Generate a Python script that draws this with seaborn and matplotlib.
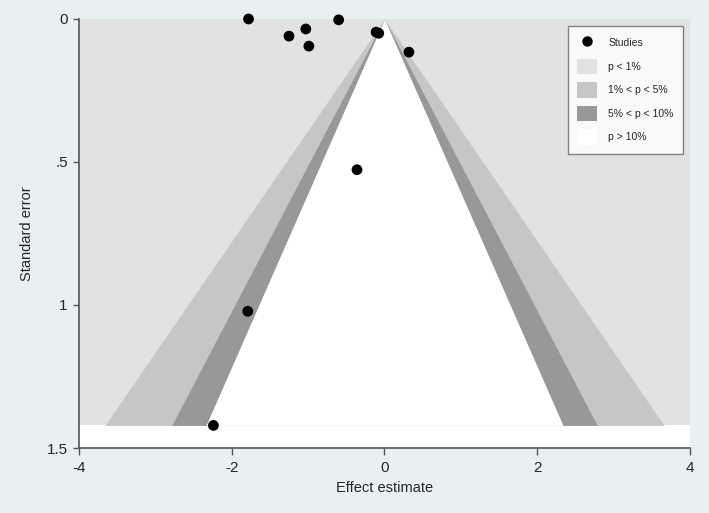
import numpy as np
import pandas as pd
import matplotlib.pyplot as plt
import seaborn as sns
from matplotlib.patches import Patch
from matplotlib.lines import Line2D

# datos
effect = [-1.78, -1.25, -1.03, -0.99, -0.60, -0.11, -0.075, 0.32, -0.36, -1.79, -2.24]
std_err = [0.0, 0.06, 0.035, 0.095, 0.003, 0.046, 0.05, 0.116, 0.527, 1.022, 1.421]
se_max = 1.421
z_levels = [2.576, 1.96, 1.645]  # 1%, 5%, 10%
contour_colors = ["#e2e2e2", "#c6c6c6", "#989898", "#ffffff"]
legend_labels = ["p < 1%", "1% < p < 5%", "5% < p < 10%", "p > 10%"]

df = pd.DataFrame({"effect": effect, "se": std_err})

sns.set_style("ticks")
plt.rcParams['font.family'] = ['Liberation Sans', 'DejaVu Sans']

fig = plt.figure(figsize=(7.09, 5.13), dpi=100, facecolor="#e9f0f2")
ax = fig.add_axes([0.1114, 0.1267, 0.8618, 0.8363])
ax.set_facecolor("white")

# regiones de contorno
se_grid = np.array([0, se_max])
ax.fill_between([-4, 4], 0, se_max, color=contour_colors[0], lw=0, zorder=1)
for z, col in zip(z_levels, contour_colors[1:]):
    ax.fill_betweenx(se_grid, -z * se_grid, z * se_grid, color=col, lw=0, zorder=2)

sns.scatterplot(data=df, x="effect", y="se", ax=ax, color="black", s=60,
                edgecolor="none", zorder=5, clip_on=False)

ax.set_xlim(-4, 4)
ax.set_ylim(1.5, 0)
ax.set_xticks([-4, -2, 0, 2, 4])
ax.set_xticklabels(["-4", "-2", "0", "2", "4"])
ax.set_yticks([0, 0.5, 1, 1.5])
ax.set_yticklabels(["0", ".5", "1", "1.5"])
ax.set_xlabel("Effect estimate", fontsize=10.5, labelpad=4)
ax.set_ylabel("Standard error", fontsize=10.5, labelpad=9)
ax.tick_params(axis="x", labelsize=11, length=5, width=1, color="#555555", pad=4.5)
ax.tick_params(axis="y", labelsize=11, length=4.5, width=1, color="#555555", pad=3.5)
for side in ["top", "right"]:
    ax.spines[side].set_visible(False)
for side in ["left", "bottom"]:
    ax.spines[side].set_color("#555555")
    ax.spines[side].set_linewidth(1.2)
    ax.spines[side].set_zorder(6)

handles = [Line2D([0], [0], marker="o", color="none", markerfacecolor="black",
                  markeredgecolor="none", markersize=7.5, label="Studies")]
for col, lab in zip(contour_colors, legend_labels):
    handles.append(Patch(facecolor=col, edgecolor="none", label=lab))
leg = ax.legend(handles=handles, loc="upper right", bbox_to_anchor=(0.988, 0.983),
                fontsize=7.5, frameon=True, fancybox=False, borderpad=0.85,
                labelspacing=0.78, handlelength=1.9, handleheight=1.9,
                handletextpad=1.1, borderaxespad=0)
leg.get_frame().set_edgecolor("#666666")
leg.get_frame().set_linewidth(1.0)
leg.get_frame().set_facecolor("white")
leg.set_zorder(10)

plt.savefig("out.png", dpi=100, facecolor=fig.get_facecolor())
plt.close()
